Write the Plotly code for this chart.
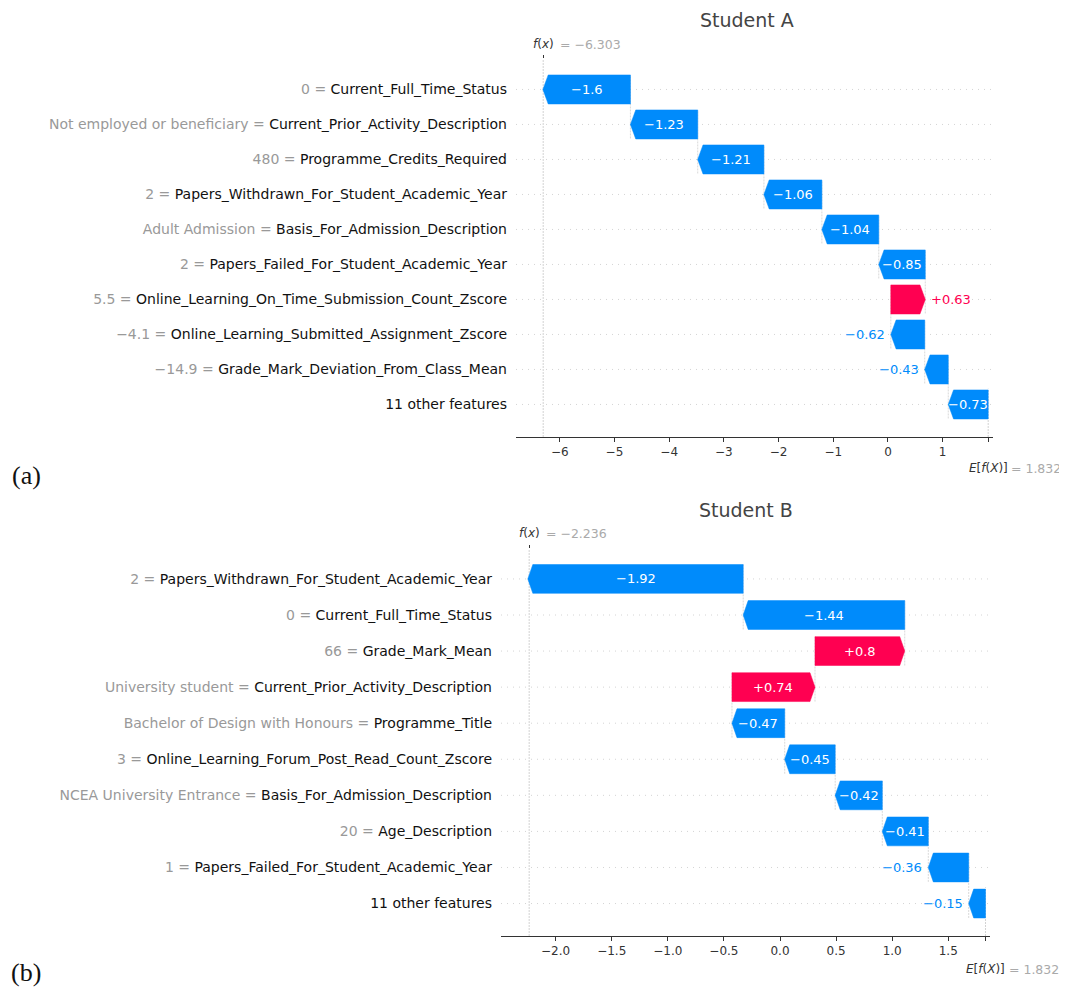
import plotly.graph_objects as go

# ---------------- data ----------------
# Student A
a_values = ["0", "Not employed or beneficiary", "480", "2", "Adult Admission", "2",
            "5.5", "\u22124.1", "\u221214.9", ""]
a_features = ["Current_Full_Time_Status", "Current_Prior_Activity_Description",
              "Programme_Credits_Required", "Papers_Withdrawn_For_Student_Academic_Year",
              "Basis_For_Admission_Description", "Papers_Failed_For_Student_Academic_Year",
              "Online_Learning_On_Time_Submission_Count_Zscore",
              "Online_Learning_Submitted_Assignment_Zscore",
              "Grade_Mark_Deviation_From_Class_Mean", "11 other features"]
a_shap = [-1.6, -1.23, -1.21, -1.06, -1.04, -0.85, 0.63, -0.62, -0.43, -0.73]
a_fx = -6.303
a_base = 1.832
a_ticks = [-6, -5, -4, -3, -2, -1, 0, 1]
a_ticklabels = ["\u22126", "\u22125", "\u22124", "\u22123", "\u22122", "\u22121", "0", "1"]

# Student B
b_values = ["2", "0", "66", "University student", "Bachelor of Design with Honours", "3",
            "NCEA University Entrance", "20", "1", ""]
b_features = ["Papers_Withdrawn_For_Student_Academic_Year", "Current_Full_Time_Status",
              "Grade_Mark_Mean", "Current_Prior_Activity_Description", "Programme_Title",
              "Online_Learning_Forum_Post_Read_Count_Zscore",
              "Basis_For_Admission_Description", "Age_Description",
              "Papers_Failed_For_Student_Academic_Year", "11 other features"]
b_shap = [-1.92, -1.44, 0.8, 0.74, -0.47, -0.45, -0.42, -0.41, -0.36, -0.15]
b_fx = -2.236
b_base = 1.832
b_ticks = [-2.0, -1.5, -1.0, -0.5, 0.0, 0.5, 1.0, 1.5]
b_ticklabels = ["\u22122.0", "\u22121.5", "\u22121.0", "\u22120.5", "0.0", "0.5", "1.0", "1.5"]

# ---------------- style ----------------
OFF = 8  # default page body margin
W, H = 1067 - OFF, 988 - OFF
PINK = "#ff0051"
BLUE = "#008bfb"
FONT = "DejaVu Sans"


def px_x(p):
    return (p - OFF) / W


def px_y(p):
    return 1 - (p - OFF) / H


panels = [
    dict(values=a_values, features=a_features, shap=a_shap, fx=a_fx, base=a_base,
         ticks=a_ticks, ticklabels=a_ticklabels, title="Student A", tag="(a)",
         xdom=(516, 993), ydom=(59, 437), xrange=(-6.80, 1.92), yrange=(-0.93, 9.87),
         head_px=5.3, bar_h=0.83, inside_thr=0.7, title_x=747,
         title_y=20, fx_y=44, e_y=468, tag_y=475, xa="x", ya="y", xtop="x3"),
    dict(values=b_values, features=b_features, shap=b_shap, fx=b_fx, base=b_base,
         ticks=b_ticks, ticklabels=b_ticklabels, title="Student B", tag="(b)",
         xdom=(501, 990), ydom=(549, 936), xrange=(-2.487, 1.872), yrange=(-0.90, 9.83),
         head_px=5.0, bar_h=0.80, inside_thr=0.4, title_x=746,
         title_y=510, fx_y=533, e_y=969, tag_y=972, xa="x2", ya="y2", xtop="x4"),
]

fig = go.Figure()
annotations = []
shapes = []
layout = {}

for k, P in enumerate(panels):
    n = len(P["shap"])
    xr = P["xrange"]
    px_per_unit = (P["xdom"][1] - P["xdom"][0]) / (xr[1] - xr[0])
    hl_unit = P["head_px"] / px_per_unit
    hh = P["bar_h"] / 2
    xa, ya = P["xa"], P["ya"]
    xref_dom = xa + " domain"
    yref_dom = ya + " domain"

    # waterfall from base (bottom row) upwards
    starts = [0.0] * n
    ends = [0.0] * n
    cur = P["base"]
    for i in range(n - 1, -1, -1):
        starts[i] = cur
        ends[i] = cur + P["shap"][i]
        cur = ends[i]

    rows = [n - 1 - i for i in range(n)]

    # row dotted lines
    for i in range(n):
        shapes.append(dict(type="line", xref=xref_dom, yref=ya, x0=0, x1=1,
                           y0=rows[i], y1=rows[i], layer="below",
                           line=dict(color="#d4d4d4", width=1, dash="1px,5px")))
    # connecting lines
    for i in range(n - 1):
        shapes.append(dict(type="line", xref=xa, yref=ya, x0=starts[i], x1=starts[i],
                           y0=rows[i] - 1 - 0.4, y1=rows[i] + 0.4, layer="below",
                           line=dict(color="#c8c8c8", width=0.7, dash="2px,1px")))
    # f(x) line and base line
    shapes.append(dict(type="line", xref=xa, yref=yref_dom, x0=P["fx"], x1=P["fx"],
                       y0=0, y1=1, layer="below",
                       line=dict(color="#c8c8c8", width=0.8, dash="2px,1px")))
    shapes.append(dict(type="line", xref=xa, yref=ya, x0=P["base"], x1=P["base"],
                       y0=P["yrange"][0], y1=rows[n - 1] + 0.45, layer="below",
                       line=dict(color="#c8c8c8", width=0.8, dash="2px,1px")))

    # bars (arrows)
    for i in range(n):
        s, e, v, r = starts[i], ends[i], P["shap"][i], rows[i]
        hlen = min(hl_unit, abs(v))
        if v < 0:
            xs = [s, e + hlen, e, e + hlen, s, s]
        else:
            xs = [s, e - hlen, e, e - hlen, s, s]
        ys = [r + hh, r + hh, r, r - hh, r - hh, r + hh]
        col = PINK if v > 0 else BLUE
        fig.add_trace(go.Scatter(x=xs, y=ys, xaxis=xa, yaxis=ya, mode="lines",
                                 fill="toself", fillcolor=col,
                                 line=dict(color=col, width=0.5),
                                 hoverinfo="skip", showlegend=False))
        label = ("+" if v > 0 else "\u2212") + f"{abs(v):g}"
        if abs(v) >= P["inside_thr"]:
            annotations.append(dict(x=(s + e) / 2, y=r, xref=xa, yref=ya, text=label,
                                    showarrow=False, xanchor="center", yanchor="middle",
                                    font=dict(family=FONT, size=13, color="white")))
        elif v < 0:
            annotations.append(dict(x=e, y=r, xref=xa, yref=ya, text=label,
                                    showarrow=False, xanchor="right", yanchor="middle",
                                    xshift=-4, font=dict(family=FONT, size=13, color=BLUE)))
        else:
            annotations.append(dict(x=e, y=r, xref=xa, yref=ya, text=label,
                                    showarrow=False, xanchor="left", yanchor="middle",
                                    xshift=4, font=dict(family=FONT, size=13, color=PINK)))

    # y tick labels
    ticktext = []
    for val, name in zip(P["values"], P["features"]):
        if val:
            ticktext.append(f'<span style="color:#999999">{val} = </span>{name}')
        else:
            ticktext.append(name)

    xkey = "xaxis" if k == 0 else "xaxis2"
    ykey = "yaxis" if k == 0 else "yaxis2"
    layout[xkey] = dict(domain=[px_x(P["xdom"][0]), px_x(P["xdom"][1])], anchor=ya,
                        range=list(xr), showgrid=False, zeroline=False,
                        showline=True, linecolor="#333333", linewidth=1,
                        ticks="outside", ticklen=4, tickcolor="#333333", tickwidth=1,
                        tickvals=P["ticks"] + [P["base"]],
                        ticktext=P["ticklabels"] + [""],
                        tickfont=dict(family=FONT, size=12, color="#333333"))
    layout[ykey] = dict(domain=[px_y(P["ydom"][1]), px_y(P["ydom"][0])], anchor=xa,
                        range=list(P["yrange"]), showgrid=False, zeroline=False,
                        showline=False, ticks="", tickvals=rows, ticktext=ticktext,
                        ticklabelstandoff=8,
                        tickfont=dict(family=FONT, size=14, color="#111111"))
    topkey = "xaxis3" if k == 0 else "xaxis4"
    layout[topkey] = dict(overlaying=xa, side="top", anchor=ya, range=list(xr),
                          showgrid=False, zeroline=False, showline=False,
                          ticks="outside", ticklen=3, tickcolor="#333333",
                          tickvals=[P["fx"]], ticktext=[""], showticklabels=False)
    fig.add_trace(go.Scatter(x=[P["fx"]], y=[rows[0]], xaxis=P["xtop"], yaxis=ya,
                             mode="markers", marker=dict(opacity=0), hoverinfo="skip",
                             showlegend=False))

    # title
    annotations.append(dict(x=px_x(P["title_x"]),
                            y=px_y(P["title_y"]), xref="paper", yref="paper",
                            text=P["title"], showarrow=False, xanchor="center",
                            yanchor="middle", font=dict(family=FONT, size=19, color="#444444")))
    # f(x) label
    annotations.append(dict(x=P["fx"], y=px_y(P["fx_y"]), xref=xa, yref="paper",
                            text="<i>f</i>(<i>x</i>)", showarrow=False, xanchor="center",
                            yanchor="middle", font=dict(family=FONT, size=12, color="#333333")))
    annotations.append(dict(x=P["fx"], y=px_y(P["fx_y"]), xref=xa, yref="paper",
                            text="= " + ("\u2212" if P["fx"] < 0 else "") + f"{abs(P['fx']):.3f}",
                            showarrow=False, xanchor="left", xshift=15,
                            yanchor="middle", font=dict(family=FONT, size=12.5, color="#aaaaaa")))
    # E[f(X)] label
    annotations.append(dict(x=P["base"], y=px_y(P["e_y"]), xref=xa, yref="paper",
                            text="<i>E</i>[<i>f</i>(<i>X</i>)]", showarrow=False,
                            xanchor="center", yanchor="middle",
                            font=dict(family=FONT, size=12, color="#333333")))
    annotations.append(dict(x=P["base"], y=px_y(P["e_y"]), xref=xa, yref="paper",
                            text=f"= {P['base']:.3f}", showarrow=False, xanchor="left",
                            xshift=21, yanchor="middle",
                            font=dict(family=FONT, size=12.5, color="#aaaaaa")))
    # panel tag
    annotations.append(dict(x=px_x(26), y=px_y(P["tag_y"]), xref="paper", yref="paper",
                            text=P["tag"], showarrow=False, xanchor="center",
                            yanchor="middle",
                            font=dict(family="Liberation Serif", size=26, color="#111111")))

fig.update_layout(width=W, height=H, margin=dict(l=0, r=0, t=0, b=0),
                  paper_bgcolor="white", plot_bgcolor="white",
                  showlegend=False, annotations=annotations, shapes=shapes, **layout)

fig.write_html("out.html")
